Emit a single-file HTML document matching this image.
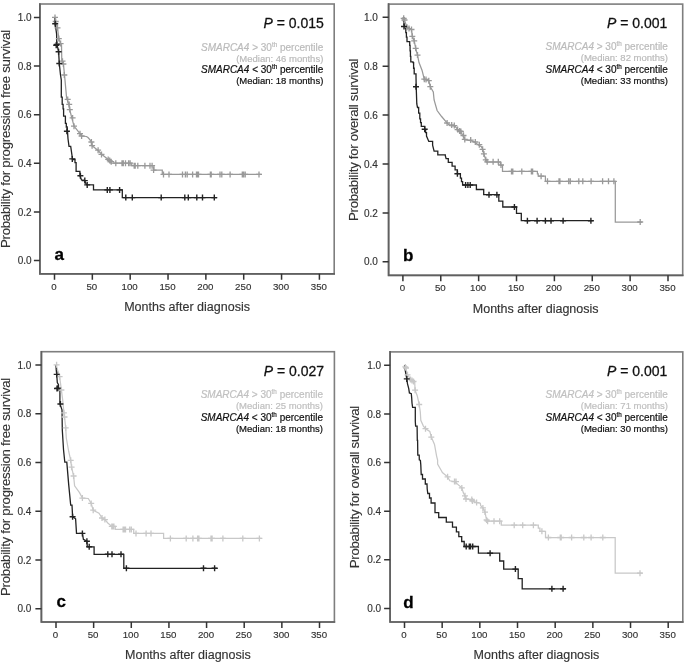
<!DOCTYPE html><html><head><meta charset="utf-8"><style>html,body{margin:0;padding:0;background:#fff;}svg{display:block;filter:grayscale(1) blur(0.3px);}text{font-family:"Liberation Sans", sans-serif;}</style></head><body>
<svg width="685" height="665" viewBox="0 0 685 665">
<rect width="685" height="665" fill="#fff"/>
<g><rect x="39.9" y="4" width="294.3" height="269.8" fill="none" stroke="#7e7e7e" stroke-width="1.6"/><path d="M39.9 3.2V273.8H335" fill="none" stroke="#606060" stroke-width="1.7"/><path d="M33.9 260.5H39.9M33.9 211.9H39.9M33.9 163.3H39.9M33.9 114.7H39.9M33.9 66.1H39.9M33.9 17.5H39.9M54.5 273.8V279.8M92.34 273.8V279.8M130.19 273.8V279.8M168.03 273.8V279.8M205.87 273.8V279.8M243.71 273.8V279.8M281.56 273.8V279.8M319.4 273.8V279.8" stroke="#333" stroke-width="1.5" fill="none"/><text x="31.6" y="264.1" font-size="10" fill="#333" stroke="#333" stroke-width="0.15" text-anchor="end">0.0</text><text x="31.6" y="215.5" font-size="10" fill="#333" stroke="#333" stroke-width="0.15" text-anchor="end">0.2</text><text x="31.6" y="166.9" font-size="10" fill="#333" stroke="#333" stroke-width="0.15" text-anchor="end">0.4</text><text x="31.6" y="118.3" font-size="10" fill="#333" stroke="#333" stroke-width="0.15" text-anchor="end">0.6</text><text x="31.6" y="69.7" font-size="10" fill="#333" stroke="#333" stroke-width="0.15" text-anchor="end">0.8</text><text x="31.6" y="21.1" font-size="10" fill="#333" stroke="#333" stroke-width="0.15" text-anchor="end">1.0</text><text x="54" y="289.6" font-size="9.7" fill="#333" stroke="#333" stroke-width="0.15" text-anchor="middle">0</text><text x="91.84" y="289.6" font-size="9.7" fill="#333" stroke="#333" stroke-width="0.15" text-anchor="middle">50</text><text x="129.69" y="289.6" font-size="9.7" fill="#333" stroke="#333" stroke-width="0.15" text-anchor="middle">100</text><text x="167.53" y="289.6" font-size="9.7" fill="#333" stroke="#333" stroke-width="0.15" text-anchor="middle">150</text><text x="205.37" y="289.6" font-size="9.7" fill="#333" stroke="#333" stroke-width="0.15" text-anchor="middle">200</text><text x="243.21" y="289.6" font-size="9.7" fill="#333" stroke="#333" stroke-width="0.15" text-anchor="middle">250</text><text x="281.06" y="289.6" font-size="9.7" fill="#333" stroke="#333" stroke-width="0.15" text-anchor="middle">300</text><text x="318.9" y="289.6" font-size="9.7" fill="#333" stroke="#333" stroke-width="0.15" text-anchor="middle">350</text><text x="187.05" y="311.1" font-size="12.5" fill="#333" stroke="#333" stroke-width="0.15" text-anchor="middle">Months after diagnosis</text><text transform="translate(10.2 138.9) rotate(-90)" font-size="13.3" fill="#333" stroke="#333" stroke-width="0.12" text-anchor="middle" textLength="218.36" lengthAdjust="spacing">Probability for progression free survival</text><text x="323.8" y="28" font-size="14" fill="#111" stroke="#111" stroke-width="0.28" text-anchor="end"><tspan font-style="italic">P</tspan> = 0.015</text><text x="323.3" y="50.8" font-size="10" fill="#bbbbbb" stroke="#bbbbbb" stroke-width="0.2" text-anchor="end"><tspan font-style="italic">SMARCA4</tspan> &gt; 30<tspan font-size="6.3" dy="-4.2">th</tspan><tspan dy="4.2"> percentile</tspan></text><text x="323.3" y="61.7" font-size="9.5" fill="#bbbbbb" stroke="#bbbbbb" stroke-width="0.2" text-anchor="end">(Median: 46 months)</text><text x="323.3" y="73.4" font-size="10" fill="#111" stroke="#111" stroke-width="0.2" text-anchor="end"><tspan font-style="italic">SMARCA4</tspan> &lt; 30<tspan font-size="6.3" dy="-4.2">th</tspan><tspan dy="4.2"> percentile</tspan></text><text x="323.3" y="84.3" font-size="9.5" fill="#111" stroke="#111" stroke-width="0.2" text-anchor="end">(Median: 18 months)</text><text x="54.6" y="259.5" font-size="17" font-weight="bold" fill="#000" stroke="#000" stroke-width="0.28">a</text><path d="M54.5 17.5 L55.7 21.5 L57.5 27.8 L58.8 38.6 L60.6 43.6 L61.5 45 L61.8 60.8 L63.4 64 L64.5 74.7 L66.6 97.9 L68.7 104.2 L69.7 109.5 L71.8 117.9 L74 126 L75 127.4 L80 133.7 L81.6 136 L86.5 136.5 L88 137.5 L89.8 139.7 L91.4 142 L92.1 145.7 L98.1 150.5 L101.9 154.5 L108.2 159.4 L110.5 161.7 L111 163.2 L131.7 163.2 L131.7 165.7 L153.9 165.7 L153.9 170.1 L162.3 170.1 L162.3 174.4 L261.6 174.4" stroke="#999999" stroke-width="1.25" fill="none" stroke-linejoin="miter"/><path d="M54.5 17.5 L55.2 23.7 L56.6 34 L56.8 44.5 L57.8 48 L58.6 51.7 L59.3 63.5 L60.5 75 L61.3 80 L61.3 97.2 L62.2 97.2 L62.2 104.4 L63.1 104.4 L63.1 108.9 L63.6 108.9 L63.6 116.1 L65.4 116.1 L65.4 123.4 L66.3 123.4 L66.3 127 L67.2 127 L67.5 131.6 L68 138.8 L69 146.4 L70.7 146.4 L72.3 157.5 L72.6 159.5 L75 159.5 L75 162.7 L76.1 162.7 L76.1 171.4 L79.9 171.4 L79.9 175.7 L81.5 180 L84.5 180.3 L86.4 184.6 L93.5 184.9 L93.5 189.9 L122.3 189.9 L122.3 197.6 L217 197.6" stroke="#222" stroke-width="1.3" fill="none" stroke-linejoin="miter"/><path d="M55 14.4v6 M52 17.4h6M55.7 18.5v6 M52.7 21.5h6M57.5 24.8v6 M54.5 27.8h6M58.8 35.6v6 M55.8 38.6h6M60.6 40.6v6 M57.6 43.6h6M62.5 58.2v6 M59.5 61.2h6M63.4 61v6 M60.4 64h6M64.3 72v6 M61.3 75h6M67.7 96.4v6 M64.7 99.4h6M69.2 101.4v6 M66.2 104.4h6M69.8 106.6v6 M66.8 109.6h6M72.6 114.9v6 M69.6 117.9h6M74 123.2v6 M71 126.2h6M80 130.7v6 M77 133.7h6M81.6 133v6 M78.6 136h6M91.4 139v6 M88.4 142h6M92.1 142.7v6 M89.1 145.7h6M98.1 147.2v6 M95.1 150.2h6M101.5 151.4v6 M98.5 154.4h6M108.2 156.4v6 M105.2 159.4h6M109.7 157.6v6 M106.7 160.6h6M111.2 158.7v6 M108.2 161.7h6M115.8 160.2v6 M112.8 163.2h6M122 160.2v6 M119 163.2h6M123.3 160.2v6 M120.3 163.2h6M125.5 160.2v6 M122.5 163.2h6M128.6 160.2v6 M125.6 163.2h6M130.1 160.2v6 M127.1 163.2h6M134.2 162.7v6 M131.2 165.7h6M135.2 162.7v6 M132.2 165.7h6M137.8 162.7v6 M134.8 165.7h6M144.9 162.7v6 M141.9 165.7h6M150 162.7v6 M147 165.7h6M152.1 162.7v6 M149.1 165.7h6M153.6 167.1v6 M150.6 170.1h6M163.5 171.4v6 M160.5 174.4h6M169 171.4v6 M166 174.4h6M182.5 171.4v6 M179.5 174.4h6M185.4 171.4v6 M182.4 174.4h6M187.2 171.4v6 M184.2 174.4h6M192.6 171.4v6 M189.6 174.4h6M196.5 171.4v6 M193.5 174.4h6M197.4 171.4v6 M194.4 174.4h6M198.5 171.4v6 M195.5 174.4h6M210.4 171.4v6 M207.4 174.4h6M211.2 171.4v6 M208.2 174.4h6M220 171.4v6 M217 174.4h6M221.8 171.4v6 M218.8 174.4h6M230.1 171.4v6 M227.1 174.4h6M242.3 171.4v6 M239.3 174.4h6M243.6 171.4v6 M240.6 174.4h6M245.2 171.4v6 M242.2 174.4h6M259 171.4v6 M256 174.4h6" stroke="#999999" stroke-width="1.3" fill="none"/><path d="M55.2 20.7v6 M52.2 23.7h6M56.8 41.5v6 M53.8 44.5h6M56.2 42.3v6 M53.2 45.3h6M58.6 48.7v6 M55.6 51.7h6M59.3 60.5v6 M56.3 63.5h6M66.9 128.3v6 M63.9 131.3h6M72.3 155.9v6 M69.3 158.9h6M80.4 172.7v6 M77.4 175.7h6M84.8 177.6v6 M81.8 180.6h6M87.2 181.9v6 M84.2 184.9h6M107.3 186.9v6 M104.3 189.9h6M109.9 186.9v6 M106.9 189.9h6M119.6 186.9v6 M116.6 189.9h6M125.8 194.6v6 M122.8 197.6h6M132.3 194.6v6 M129.3 197.6h6M161.2 194.6v6 M158.2 197.6h6M184.8 194.6v6 M181.8 197.6h6M188.3 194.6v6 M185.3 197.6h6M196.8 194.6v6 M193.8 197.6h6M202.5 194.6v6 M199.5 197.6h6M214.3 194.6v6 M211.3 197.6h6" stroke="#222" stroke-width="1.4" fill="none"/></g>
<g><rect x="388.6" y="4.1" width="294.1" height="271.2" fill="none" stroke="#7e7e7e" stroke-width="1.6"/><path d="M388.6 3.3V275.3H683.5" fill="none" stroke="#606060" stroke-width="1.7"/><path d="M382.6 261.8H388.6M382.6 212.9H388.6M382.6 164H388.6M382.6 115.1H388.6M382.6 66.2H388.6M382.6 17.3H388.6M402.9 275.3V281.3M440.77 275.3V281.3M478.64 275.3V281.3M516.51 275.3V281.3M554.39 275.3V281.3M592.26 275.3V281.3M630.13 275.3V281.3M668 275.3V281.3" stroke="#333" stroke-width="1.5" fill="none"/><text x="377.9" y="265.4" font-size="10" fill="#333" stroke="#333" stroke-width="0.15" text-anchor="end">0.0</text><text x="377.9" y="216.5" font-size="10" fill="#333" stroke="#333" stroke-width="0.15" text-anchor="end">0.2</text><text x="377.9" y="167.6" font-size="10" fill="#333" stroke="#333" stroke-width="0.15" text-anchor="end">0.4</text><text x="377.9" y="118.7" font-size="10" fill="#333" stroke="#333" stroke-width="0.15" text-anchor="end">0.6</text><text x="377.9" y="69.8" font-size="10" fill="#333" stroke="#333" stroke-width="0.15" text-anchor="end">0.8</text><text x="377.9" y="20.9" font-size="10" fill="#333" stroke="#333" stroke-width="0.15" text-anchor="end">1.0</text><text x="402.4" y="291.1" font-size="9.7" fill="#333" stroke="#333" stroke-width="0.15" text-anchor="middle">0</text><text x="440.27" y="291.1" font-size="9.7" fill="#333" stroke="#333" stroke-width="0.15" text-anchor="middle">50</text><text x="478.14" y="291.1" font-size="9.7" fill="#333" stroke="#333" stroke-width="0.15" text-anchor="middle">100</text><text x="516.01" y="291.1" font-size="9.7" fill="#333" stroke="#333" stroke-width="0.15" text-anchor="middle">150</text><text x="553.89" y="291.1" font-size="9.7" fill="#333" stroke="#333" stroke-width="0.15" text-anchor="middle">200</text><text x="591.76" y="291.1" font-size="9.7" fill="#333" stroke="#333" stroke-width="0.15" text-anchor="middle">250</text><text x="629.63" y="291.1" font-size="9.7" fill="#333" stroke="#333" stroke-width="0.15" text-anchor="middle">300</text><text x="667.5" y="291.1" font-size="9.7" fill="#333" stroke="#333" stroke-width="0.15" text-anchor="middle">350</text><text x="535.65" y="312.6" font-size="12.5" fill="#333" stroke="#333" stroke-width="0.15" text-anchor="middle">Months after diagnosis</text><text transform="translate(358 139.7) rotate(-90)" font-size="13.3" fill="#333" stroke="#333" stroke-width="0.12" text-anchor="middle" textLength="162.56" lengthAdjust="spacing">Probability for overall survival</text><text x="667.3" y="28" font-size="14" fill="#111" stroke="#111" stroke-width="0.28" text-anchor="end"><tspan font-style="italic">P</tspan> = 0.001</text><text x="667.9" y="49.9" font-size="10" fill="#bbbbbb" stroke="#bbbbbb" stroke-width="0.2" text-anchor="end"><tspan font-style="italic">SMARCA4</tspan> &gt; 30<tspan font-size="6.3" dy="-4.2">th</tspan><tspan dy="4.2"> percentile</tspan></text><text x="667.9" y="61.1" font-size="9.5" fill="#bbbbbb" stroke="#bbbbbb" stroke-width="0.2" text-anchor="end">(Median: 82 months)</text><text x="667.9" y="73" font-size="10" fill="#111" stroke="#111" stroke-width="0.2" text-anchor="end"><tspan font-style="italic">SMARCA4</tspan> &lt; 30<tspan font-size="6.3" dy="-4.2">th</tspan><tspan dy="4.2"> percentile</tspan></text><text x="667.9" y="84" font-size="9.5" fill="#111" stroke="#111" stroke-width="0.2" text-anchor="end">(Median: 33 months)</text><text x="403" y="260.6" font-size="17" font-weight="bold" fill="#000" stroke="#000" stroke-width="0.28">b</text><path d="M402.9 17.3 L403.7 18.3 L407 27.3 L411.5 29.5 L412.3 36.3 L414.2 40.8 L415.7 48.3 L417.5 55.1 L419 62.6 L422 70.2 L424.3 79.2 L428.8 80.7 L430.3 86.7 L433.3 92 L434.1 100 L437.1 110.5 L441.6 116.5 L446.8 122.6 L449.8 125.6 L455 126 L458.1 130.1 L461.1 132.3 L463.4 136.8 L464.9 139.8 L470.9 140.6 L474.7 142.1 L477.7 144.4 L481.4 146.6 L482.9 149.6 L484.4 155.6 L485.9 160.2 L486.7 162 L500.4 162 L500.4 165.3 L502.5 165.3 L502.5 171.4 L537.4 171.4 L537.4 173.8 L538.2 173.8 L538.2 176.2 L545.4 176.2 L545.4 181.3 L615.3 181.3 L615.3 222 L642 222" stroke="#999999" stroke-width="1.25" fill="none" stroke-linejoin="miter"/><path d="M402.9 17.3 H403.45 V20.8 H404 V24.3 L405.2 28 H405.8 V32.53 H406.4 V37.07 H407 V41.6 H409.7 V45.3 H410.07 V50.83 H410.43 V56.37 H410.8 V61.9 H413 V62.6 H413.6 V68.25 H414.2 V73.9 H416 V76.9 L416.2 86.7 L416.8 104 L417.5 107.5 H418.65 V113.15 H419.8 V118.8 H420.55 V122.55 H421.3 V126.3 H424.7 V129.3 H425.6 V132.7 H426.5 V136.1 L428.8 141.4 H432.6 V145.1 L434.1 151.1 H437.8 V154.9 H445.3 V155.6 L446.1 158.6 H448.3 V162.4 H452.1 V166.2 H455.1 V169.9 H457.4 V173.7 H460.4 V178.2 H461.5 V181.6 H462.6 V185 L476.4 185 L476.4 189.5 L483.7 189.5 L483.7 194.7 L498.8 194.7 L498.8 201.1 L502.8 201.1 L502.8 207 L516.5 207 L516.5 213.4 L521.3 213.4 L521.3 220.7 L592.8 220.7" stroke="#222" stroke-width="1.3" fill="none" stroke-linejoin="miter"/><path d="M403.7 15.3v6 M400.7 18.3h6M404.5 17v6 M401.5 20h6M407 24.3v6 M404 27.3h6M409 25.6v6 M406 28.6h6M411.5 26.5v6 M408.5 29.5h6M412.3 33.3v6 M409.3 36.3h6M414.2 37.8v6 M411.2 40.8h6M415.7 45.3v6 M412.7 48.3h6M417.5 52.1v6 M414.5 55.1h6M424.3 76.2v6 M421.3 79.2h6M426 76.5v6 M423 79.5h6M428.8 77.7v6 M425.8 80.7h6M430.3 83.7v6 M427.3 86.7h6M447.1 120v6 M444.1 123h6M451.7 122v6 M448.7 125h6M454.3 122.6v6 M451.3 125.6h6M457.6 126.6v6 M454.6 129.6h6M459.6 127.9v6 M456.6 130.9h6M460.9 128.5v6 M457.9 131.5h6M463.5 132.5v6 M460.5 135.5h6M464.8 136.4v6 M461.8 139.4h6M470.7 137.1v6 M467.7 140.1h6M475.3 139v6 M472.3 142h6M479.3 141.7v6 M476.3 144.7h6M482.6 146.3v6 M479.6 149.3h6M483.9 150.9v6 M480.9 153.9h6M485.8 156.8v6 M482.8 159.8h6M487.2 158.8v6 M484.2 161.8h6M493.1 158.8v6 M490.1 161.8h6M498.3 158.8v6 M495.3 161.8h6M501 162v6 M498 165h6M511.5 168.4v6 M508.5 171.4h6M512.8 168.4v6 M509.8 171.4h6M521.8 168.4v6 M518.8 171.4h6M531.4 168.4v6 M528.4 171.4h6M532.6 168.4v6 M529.6 171.4h6M541.1 173.2v6 M538.1 176.2h6M547.5 178.3v6 M544.5 181.3h6M559 178.3v6 M556 181.3h6M559.9 178.3v6 M556.9 181.3h6M568.7 178.3v6 M565.7 181.3h6M570.3 178.3v6 M567.3 181.3h6M578.8 178.3v6 M575.8 181.3h6M582.8 178.3v6 M579.8 181.3h6M591.1 178.3v6 M588.1 181.3h6M602.6 178.3v6 M599.6 181.3h6M608.5 178.3v6 M605.5 181.3h6M613.9 178.3v6 M610.9 181.3h6M640.2 219v6 M637.2 222h6" stroke="#999999" stroke-width="1.3" fill="none"/><path d="M404 23.5v6 M401 26.5h6M416 83.7v6 M413 86.7h6M424.7 126.3v6 M421.7 129.3h6M457.4 170.7v6 M454.4 173.7h6M465.6 182v6 M462.6 185h6M467.9 182v6 M464.9 185h6M470.2 182v6 M467.2 185h6M489 191.7v6 M486 194.7h6M496.9 191.7v6 M493.9 194.7h6M514.4 204v6 M511.4 207h6M527.4 217.7v6 M524.4 220.7h6M537.1 217.7v6 M534.1 220.7h6M545.4 217.7v6 M542.4 220.7h6M551 217.7v6 M548 220.7h6M563.1 217.7v6 M560.1 220.7h6M590.9 217.7v6 M587.9 220.7h6" stroke="#222" stroke-width="1.4" fill="none"/></g>
<g><rect x="41.4" y="351.7" width="293" height="270.3" fill="none" stroke="#7e7e7e" stroke-width="1.6"/><path d="M41.4 350.9V622H335.2" fill="none" stroke="#606060" stroke-width="1.7"/><path d="M35.4 608.7H41.4M35.4 559.98H41.4M35.4 511.26H41.4M35.4 462.54H41.4M35.4 413.82H41.4M35.4 365.1H41.4M56 622V628M93.64 622V628M131.29 622V628M168.93 622V628M206.57 622V628M244.21 622V628M281.86 622V628M319.5 622V628" stroke="#333" stroke-width="1.5" fill="none"/><text x="31.3" y="612.3" font-size="10" fill="#333" stroke="#333" stroke-width="0.15" text-anchor="end">0.0</text><text x="31.3" y="563.58" font-size="10" fill="#333" stroke="#333" stroke-width="0.15" text-anchor="end">0.2</text><text x="31.3" y="514.86" font-size="10" fill="#333" stroke="#333" stroke-width="0.15" text-anchor="end">0.4</text><text x="31.3" y="466.14" font-size="10" fill="#333" stroke="#333" stroke-width="0.15" text-anchor="end">0.6</text><text x="31.3" y="417.42" font-size="10" fill="#333" stroke="#333" stroke-width="0.15" text-anchor="end">0.8</text><text x="31.3" y="368.7" font-size="10" fill="#333" stroke="#333" stroke-width="0.15" text-anchor="end">1.0</text><text x="55.5" y="637.8" font-size="9.7" fill="#333" stroke="#333" stroke-width="0.15" text-anchor="middle">0</text><text x="93.14" y="637.8" font-size="9.7" fill="#333" stroke="#333" stroke-width="0.15" text-anchor="middle">50</text><text x="130.79" y="637.8" font-size="9.7" fill="#333" stroke="#333" stroke-width="0.15" text-anchor="middle">100</text><text x="168.43" y="637.8" font-size="9.7" fill="#333" stroke="#333" stroke-width="0.15" text-anchor="middle">150</text><text x="206.07" y="637.8" font-size="9.7" fill="#333" stroke="#333" stroke-width="0.15" text-anchor="middle">200</text><text x="243.71" y="637.8" font-size="9.7" fill="#333" stroke="#333" stroke-width="0.15" text-anchor="middle">250</text><text x="281.36" y="637.8" font-size="9.7" fill="#333" stroke="#333" stroke-width="0.15" text-anchor="middle">300</text><text x="319" y="637.8" font-size="9.7" fill="#333" stroke="#333" stroke-width="0.15" text-anchor="middle">350</text><text x="187.9" y="659.3" font-size="12.5" fill="#333" stroke="#333" stroke-width="0.15" text-anchor="middle">Months after diagnosis</text><text transform="translate(10.4 486.85) rotate(-90)" font-size="13.3" fill="#333" stroke="#333" stroke-width="0.12" text-anchor="middle" textLength="218.36" lengthAdjust="spacing">Probability for progression free survival</text><text x="324.1" y="375.9" font-size="14" fill="#111" stroke="#111" stroke-width="0.28" text-anchor="end"><tspan font-style="italic">P</tspan> = 0.027</text><text x="323" y="397.8" font-size="10" fill="#c0c0c0" stroke="#c0c0c0" stroke-width="0.2" text-anchor="end"><tspan font-style="italic">SMARCA4</tspan> &gt; 30<tspan font-size="6.3" dy="-4.2">th</tspan><tspan dy="4.2"> percentile</tspan></text><text x="323" y="409" font-size="9.5" fill="#c0c0c0" stroke="#c0c0c0" stroke-width="0.2" text-anchor="end">(Median: 25 months)</text><text x="323" y="420.9" font-size="10" fill="#111" stroke="#111" stroke-width="0.2" text-anchor="end"><tspan font-style="italic">SMARCA4</tspan> &lt; 30<tspan font-size="6.3" dy="-4.2">th</tspan><tspan dy="4.2"> percentile</tspan></text><text x="323" y="432" font-size="9.5" fill="#111" stroke="#111" stroke-width="0.2" text-anchor="end">(Median: 18 months)</text><text x="56.5" y="607" font-size="17" font-weight="bold" fill="#000" stroke="#000" stroke-width="0.28">c</text><path d="M56 365.1 L58.4 372.5 L59.6 376.7 L61.4 390 L62.7 400 L63.9 412.8 L64.5 417 L65.7 427.9 L66.3 438 L68.7 451.5 L70.7 460.3 L71.6 467.2 L73.6 476 L74.6 485.8 L79.5 492.6 L82.4 498.1 L88.3 498.5 L91.2 503.4 L93.2 510.2 L99 513.2 L102 518 L104.9 519.6 L107.8 523 L111.8 526.4 L115.3 526.4 L115.3 529.4 L133.7 529.4 L133.7 533.4 L163.6 533.4 L163.6 538.4 L261.6 538.4" stroke="#c8c8c8" stroke-width="1.25" fill="none" stroke-linejoin="miter"/><path d="M56 365.1 L56.2 369.4 L56.7 374.4 L57.3 382.5 L58.5 384.6 L58.5 388.3 L59.9 389.8 L59.9 404 L62 409.8 L62.3 430 L63.5 449.5 L64.8 462.2 L66.8 462.2 L68.7 484.6 L70.7 505.1 L72 505.1 L72.6 516.8 L75.6 518.8 L76.5 533.4 L82.4 533.4 L83.4 539.3 L86.9 541.2 L87.3 546.8 L94.1 546.8 L94.1 554.3 L123.8 554.3 L123.8 568.3 L217.6 568.3" stroke="#222" stroke-width="1.3" fill="none" stroke-linejoin="miter"/><path d="M56.6 361.8v6 M53.6 364.8h6M59.6 373.7v6 M56.6 376.7h6M61.4 387v6 M58.4 390h6M63.9 409.8v6 M60.9 412.8h6M64.5 414v6 M61.5 417h6M65.7 424.9v6 M62.7 427.9h6M70.7 457.3v6 M67.7 460.3h6M71.6 464.2v6 M68.6 467.2h6M73.6 473v6 M70.6 476h6M82.4 495.1v6 M79.4 498.1h6M91.2 500.4v6 M88.2 503.4h6M93.2 507.2v6 M90.2 510.2h6M102 515v6 M99 518h6M104.9 516.6v6 M101.9 519.6h6M111.8 523.4v6 M108.8 526.4h6M112.8 523.4v6 M109.8 526.4h6M113.9 523.4v6 M110.9 526.4h6M123.1 526.4v6 M120.1 529.4h6M124.2 526.4v6 M121.2 529.4h6M125.5 526.4v6 M122.5 529.4h6M129.7 526.4v6 M126.7 529.4h6M131.3 526.4v6 M128.3 529.4h6M136 530.4v6 M133 533.4h6M146.1 530.4v6 M143.1 533.4h6M151 530.4v6 M148 533.4h6M170.4 535.4v6 M167.4 538.4h6M186.2 535.4v6 M183.2 538.4h6M192.9 535.4v6 M189.9 538.4h6M197.6 535.4v6 M194.6 538.4h6M198.9 535.4v6 M195.9 538.4h6M211 535.4v6 M208 538.4h6M212.1 535.4v6 M209.1 538.4h6M222.9 535.4v6 M219.9 538.4h6M242.8 535.4v6 M239.8 538.4h6M259.4 535.4v6 M256.4 538.4h6" stroke="#c8c8c8" stroke-width="1.3" fill="none"/><path d="M56.7 371.4v6 M53.7 374.4h6M57.8 385.3v6 M54.8 388.3h6M57 385.5v6 M54 388.5h6M60.4 401v6 M57.4 404h6M72.6 513.8v6 M69.6 516.8h6M82.4 530.4v6 M79.4 533.4h6M86.9 538.2v6 M83.9 541.2h6M89.2 543.8v6 M86.2 546.8h6M107.8 551.3v6 M104.8 554.3h6M112 551.3v6 M109 554.3h6M121 551.3v6 M118 554.3h6M126.4 565.3v6 M123.4 568.3h6M203.5 565.3v6 M200.5 568.3h6M214.6 565.3v6 M211.6 568.3h6" stroke="#222" stroke-width="1.4" fill="none"/></g>
<g><rect x="390.1" y="351.9" width="292.7" height="270.1" fill="none" stroke="#7e7e7e" stroke-width="1.6"/><path d="M390.1 351.1V622H683.6" fill="none" stroke="#606060" stroke-width="1.7"/><path d="M384.1 608.4H390.1M384.1 559.78H390.1M384.1 511.16H390.1M384.1 462.54H390.1M384.1 413.92H390.1M384.1 365.3H390.1M404.5 622V628M442.17 622V628M479.84 622V628M517.51 622V628M555.19 622V628M592.86 622V628M630.53 622V628M668.2 622V628" stroke="#333" stroke-width="1.5" fill="none"/><text x="381.1" y="612" font-size="10" fill="#333" stroke="#333" stroke-width="0.15" text-anchor="end">0.0</text><text x="381.1" y="563.38" font-size="10" fill="#333" stroke="#333" stroke-width="0.15" text-anchor="end">0.2</text><text x="381.1" y="514.76" font-size="10" fill="#333" stroke="#333" stroke-width="0.15" text-anchor="end">0.4</text><text x="381.1" y="466.14" font-size="10" fill="#333" stroke="#333" stroke-width="0.15" text-anchor="end">0.6</text><text x="381.1" y="417.52" font-size="10" fill="#333" stroke="#333" stroke-width="0.15" text-anchor="end">0.8</text><text x="381.1" y="368.9" font-size="10" fill="#333" stroke="#333" stroke-width="0.15" text-anchor="end">1.0</text><text x="404" y="637.8" font-size="9.7" fill="#333" stroke="#333" stroke-width="0.15" text-anchor="middle">0</text><text x="441.67" y="637.8" font-size="9.7" fill="#333" stroke="#333" stroke-width="0.15" text-anchor="middle">50</text><text x="479.34" y="637.8" font-size="9.7" fill="#333" stroke="#333" stroke-width="0.15" text-anchor="middle">100</text><text x="517.01" y="637.8" font-size="9.7" fill="#333" stroke="#333" stroke-width="0.15" text-anchor="middle">150</text><text x="554.69" y="637.8" font-size="9.7" fill="#333" stroke="#333" stroke-width="0.15" text-anchor="middle">200</text><text x="592.36" y="637.8" font-size="9.7" fill="#333" stroke="#333" stroke-width="0.15" text-anchor="middle">250</text><text x="630.03" y="637.8" font-size="9.7" fill="#333" stroke="#333" stroke-width="0.15" text-anchor="middle">300</text><text x="667.7" y="637.8" font-size="9.7" fill="#333" stroke="#333" stroke-width="0.15" text-anchor="middle">350</text><text x="536.45" y="659.3" font-size="12.5" fill="#333" stroke="#333" stroke-width="0.15" text-anchor="middle">Months after diagnosis</text><text transform="translate(358.9 486.95) rotate(-90)" font-size="13.3" fill="#333" stroke="#333" stroke-width="0.12" text-anchor="middle" textLength="162.56" lengthAdjust="spacing">Probability for overall survival</text><text x="667.3" y="375.9" font-size="14" fill="#111" stroke="#111" stroke-width="0.28" text-anchor="end"><tspan font-style="italic">P</tspan> = 0.001</text><text x="667.9" y="397.8" font-size="10" fill="#c0c0c0" stroke="#c0c0c0" stroke-width="0.2" text-anchor="end"><tspan font-style="italic">SMARCA4</tspan> &gt; 30<tspan font-size="6.3" dy="-4.2">th</tspan><tspan dy="4.2"> percentile</tspan></text><text x="667.9" y="409" font-size="9.5" fill="#c0c0c0" stroke="#c0c0c0" stroke-width="0.2" text-anchor="end">(Median: 71 months)</text><text x="667.9" y="420.9" font-size="10" fill="#111" stroke="#111" stroke-width="0.2" text-anchor="end"><tspan font-style="italic">SMARCA4</tspan> &lt; 30<tspan font-size="6.3" dy="-4.2">th</tspan><tspan dy="4.2"> percentile</tspan></text><text x="667.9" y="432" font-size="9.5" fill="#111" stroke="#111" stroke-width="0.2" text-anchor="end">(Median: 30 months)</text><text x="403.3" y="608" font-size="17" font-weight="bold" fill="#000" stroke="#000" stroke-width="0.28">d</text><path d="M404.5 365.3 L405.3 366.9 L407.5 374.8 L411.3 380.1 L414.7 382.3 L415.1 390.2 L417.3 395.9 L419.2 404.5 L420.3 412 L420.8 420.3 L423.4 426.1 L425.5 428.7 L429.8 431.4 L431.3 437.1 L434.5 444.5 L436.6 456.1 L437.6 460 L437.6 464 L441 470 L442.4 472.6 L447.6 476.8 L449.8 480.8 L454.5 481.6 L458.1 484.6 L461.8 487.9 L463.4 492.9 L465 495.8 L466 499 L471.8 499.5 L472.4 501 L476.6 502.6 L480.3 503.2 L480.7 505.6 L482.9 507.9 L485 512.1 L486.6 520 L487.6 521.2 L501.3 521.2 L501.3 525.2 L538.3 525.2 L538.3 528.1 L539.9 528.1 L539.9 531.3 L545.5 531.3 L545.5 537.5 L615.2 537.5 L615.2 573.2 L642.5 573.2" stroke="#c8c8c8" stroke-width="1.25" fill="none" stroke-linejoin="miter"/><path d="M404.5 365.3 L405.6 372.5 L406.8 378.9 L407.5 383.8 L408.7 388.4 L409.4 392.9 L411.3 393.6 L411.7 398.1 L412 403 L412.6 407.3 L415.3 407.3 L415.3 421.3 L415.6 426.1 L417.1 426.1 L417.3 440.3 L417.6 440.3 L417.8 455.1 L419.2 455.1 L419.3 459.8 L420.4 460.4 L420.8 464.9 L421.2 474.5 L422.5 474.5 L422.5 479 L425.3 479 L425.3 484 L427 484 L427.2 489 L427.8 493.5 L429.5 493.5 L429.5 498 L431.1 498 L431.1 503 L435 503 L435 512.6 L438.7 512.6 L438.7 517.5 L446.3 517.5 L446.3 522.1 L452.5 522.1 L452.5 527.1 L456.4 527.1 L456.4 531.8 L458.8 531.8 L458.8 536.6 L461.7 536.6 L461.7 541.5 L464.2 541.5 L464.2 546.5 L478.4 546.5 L478.4 553.2 L499.7 553.2 L499.7 561 L503.7 561 L503.7 569.1 L518.2 569.1 L518.2 578.7 L522.2 578.7 L522.2 588.8 L565.6 588.8" stroke="#222" stroke-width="1.3" fill="none" stroke-linejoin="miter"/><path d="M405.3 363.9v6 M402.3 366.9h6M406 365v6 M403 368h6M407.5 371.8v6 M404.5 374.8h6M410.5 376.5v6 M407.5 379.5h6M412 377.5v6 M409 380.5h6M413.5 378.5v6 M410.5 381.5h6M415.1 387.2v6 M412.1 390.2h6M419.2 401.5v6 M416.2 404.5h6M425.5 425.7v6 M422.5 428.7h6M431.3 434.1v6 M428.3 437.1h6M447.6 473.8v6 M444.6 476.8h6M454.5 478.6v6 M451.5 481.6h6M456 478.6v6 M453 481.6h6M461.8 484.9v6 M458.8 487.9h6M465 492.8v6 M462 495.8h6M466 496v6 M463 499h6M471.8 496.5v6 M468.8 499.5h6M472.4 498v6 M469.4 501h6M476.6 499.6v6 M473.6 502.6h6M482.9 504.9v6 M479.9 507.9h6M485 509.1v6 M482 512.1h6M486.6 517v6 M483.6 520h6M487.6 518.2v6 M484.6 521.2h6M494 518.2v6 M491 521.2h6M499.7 518.2v6 M496.7 521.2h6M514.2 522.2v6 M511.2 525.2h6M522.7 522.2v6 M519.7 525.2h6M533.4 522.2v6 M530.4 525.2h6M541.9 528.3v6 M538.9 531.3h6M548.4 534.5v6 M545.4 537.5h6M560.3 534.5v6 M557.3 537.5h6M561.2 534.5v6 M558.2 537.5h6M571.6 534.5v6 M568.6 537.5h6M583.8 534.5v6 M580.8 537.5h6M591.1 534.5v6 M588.1 537.5h6M602.8 534.5v6 M599.8 537.5h6M640 570.2v6 M637 573.2h6" stroke="#c8c8c8" stroke-width="1.3" fill="none"/><path d="M406.8 375.9v6 M403.8 378.9h6M466.2 543.5v6 M463.2 546.5h6M469.3 543.5v6 M466.3 546.5h6M470.5 543.5v6 M467.5 546.5h6M472.7 543.5v6 M469.7 546.5h6M490.1 550.2v6 M487.1 553.2h6M515.4 566.1v6 M512.4 569.1h6M551.9 585.8v6 M548.9 588.8h6M563.1 585.8v6 M560.1 588.8h6" stroke="#222" stroke-width="1.4" fill="none"/></g>
</svg></body></html>
